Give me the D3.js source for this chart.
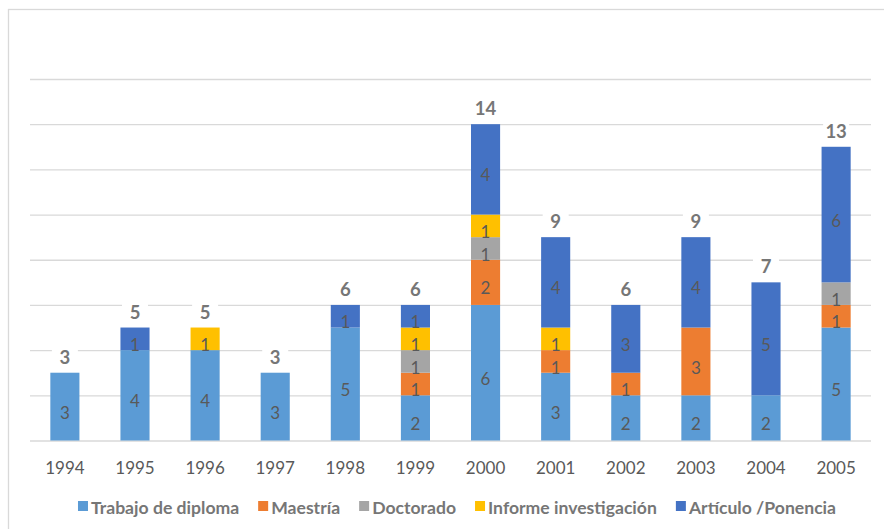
<!DOCTYPE html>
<html><head><meta charset="utf-8">
<script src="https://cdn.jsdelivr.net/npm/d3@7/dist/d3.min.js"></script>
<style>body{margin:0;background:#fff}svg{display:block}</style>
</head><body><svg id="c" width="884" height="529"></svg>
<script>
const years = ['1994','1995','1996','1997','1998','1999','2000','2001','2002','2003','2004','2005'];
const seriesNames = ['Trabajo de diploma','Maestría','Doctorado','Informe investigación','Artículo /Ponencia'];
const trabajo   = [3,4,4,3,5,2,6,3,2,2,2,5];
const maestria  = [0,0,0,0,0,1,2,1,1,3,0,1];
const doctorado = [0,0,0,0,0,1,1,0,0,0,0,1];
const informe   = [0,0,1,0,0,1,1,1,0,0,0,0];
const articulo  = [0,1,0,0,1,1,4,4,3,4,5,6];
const yTicks = [0,2,4,6,8,10,12,14,16];
const colors = ['#5B9BD5','#ED7D31','#A5A5A5','#FFC000','#4472C4'];

const seriesVals = [trabajo, maestria, doctorado, informe, articulo];
const rows = years.map((yr,i)=>{const o={year:yr}; seriesNames.forEach((s,k)=>o[s]=seriesVals[k][i]); return o;});
const stack = d3.stack().keys(seriesNames)(rows);
const totals = years.map((yr,i)=>d3.sum(seriesVals,a=>a[i]));

const FONT = "Lato, 'Open Sans', sans-serif";
const svg = d3.select('#c');
svg.append('rect').attr('x',8.5).attr('y',9.5).attr('width',1000).attr('height',1000)
  .attr('fill','#fff').attr('stroke','#d9d9d9').attr('stroke-width',1.3);

const pL=30, pR=871, pT=79, pB=440.5;
const x = d3.scaleBand().domain(years).range([pL,pR]).paddingInner(0.585).paddingOuter(0.29);
const y = d3.scaleLinear().domain([0,16]).range([pB,pT]);

// gridlines
const grid = svg.append('g').attr('transform',`translate(${pL},0)`)
  .call(d3.axisLeft(y).tickValues(yTicks).tickSize(-(pR-pL)).tickFormat(''));
grid.select('.domain').remove();
grid.selectAll('line').attr('stroke','#d9d9d9').attr('stroke-width',1.3);

// bars
const layers = svg.append('g').selectAll('g').data(stack).join('g')
  .attr('fill',(d,i)=>colors[i]);
layers.selectAll('rect').data(d=>d.filter(p=>p[1]-p[0]>0).map(p=>({p,year:p.data.year})))
  .join('rect')
  .attr('x',d=>x(d.year)).attr('width',x.bandwidth())
  .attr('y',d=>y(d.p[1])).attr('height',d=>y(d.p[0])-y(d.p[1]));

// segment labels
layers.selectAll('text').data(d=>d.filter(p=>p[1]-p[0]>0).map(p=>({p,year:p.data.year,v:p[1]-p[0]})))
  .join('text')
  .attr('x',d=>x(d.year)+x.bandwidth()/2)
  .attr('y',d=>(y(d.p[0])+y(d.p[1]))/2+6)
  .attr('dy','0.36em')
  .attr('text-anchor','middle').attr('fill','#595959')
  .style('font-family',FONT).style('font-size','17px')
  .text(d=>d.v);

// totals
const tg = svg.append('g').selectAll('g').data(years).join('g');
tg.append('rect')
  .attr('x',d=>x(d)+x.bandwidth()/2-13).attr('width',26)
  .attr('y',(d,i)=>y(totals[i])-26).attr('height',20).attr('fill','#fff');
tg.append('text')
  .attr('x',d=>x(d)+x.bandwidth()/2)
  .attr('y',(d,i)=>y(totals[i])-9)
  .attr('text-anchor','middle').attr('fill','#767676')
  .style('font-family',FONT).style('font-size','18.5px').style('font-weight','bold')
  .text((d,i)=>totals[i]);

// x axis
const xa = svg.append('g').attr('transform',`translate(0,${pB})`)
  .call(d3.axisBottom(x).tickSize(0).tickPadding(21));
xa.select('.domain').remove();
xa.selectAll('text').attr('fill','#595959').style('font-family',FONT).style('font-size','17px');

// legend
const lg = svg.append('g');
const items = lg.selectAll('g').data(seriesNames).join('g');
items.append('rect').attr('width',10).attr('height',10).attr('y',501).attr('fill',(d,i)=>colors[i]);
items.append('text').attr('x',13).attr('y',513.5).attr('fill','#767676')
  .style('font-family',FONT).style('font-size','17.6px').style('font-weight','bold').text(d=>d);
let pos=0; const gap=19; const offs=[];
items.each(function(){const w=d3.select(this).select('text').node().getComputedTextLength(); offs.push(pos); pos+=13+w+gap;});
const totalW=pos-gap; const start=457-totalW/2;
items.attr('transform',(d,i)=>`translate(${start+offs[i]},0)`);
</script></body></html>
